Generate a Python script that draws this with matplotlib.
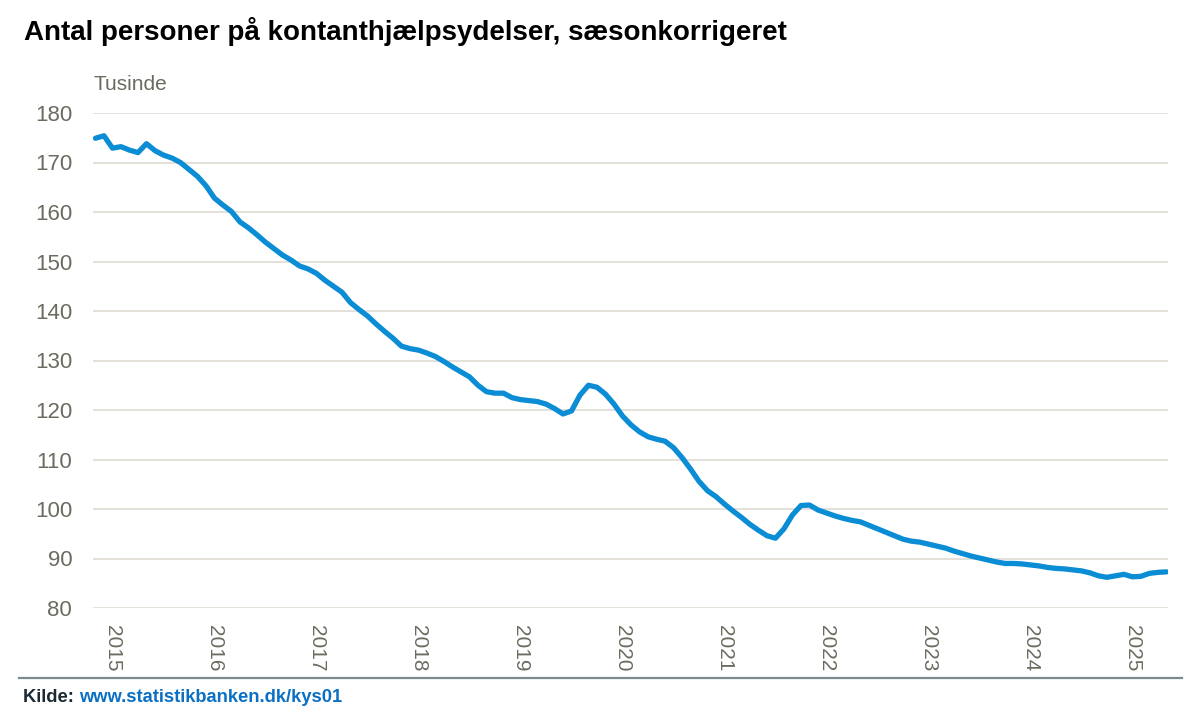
import matplotlib.pyplot as plt
from matplotlib.font_manager import fontManager

# Monthly values (thousands), Jan 2015 - Jul 2025
values = [
    174.9, 175.4, 172.9, 173.2, 172.5, 172.0, 173.8, 172.4, 171.5, 170.9, 170.0, 168.6,
    167.2, 165.3, 162.8, 161.4, 160.1, 158.0, 156.8, 155.4, 153.9, 152.6, 151.3, 150.3,
    149.1, 148.5, 147.6, 146.2, 145.0, 143.8, 141.7, 140.3, 139.0, 137.4, 135.9, 134.5,
    132.9, 132.4, 132.1, 131.5, 130.8, 129.8, 128.7, 127.7, 126.7, 125.0, 123.7, 123.4,
    123.4, 122.5, 122.1, 121.9, 121.7, 121.2, 120.3, 119.2, 119.8, 123.0, 125.0, 124.6,
    123.2, 121.2, 118.8, 117.0, 115.6, 114.6, 114.1, 113.7, 112.4, 110.4, 108.1, 105.6,
    103.7, 102.5, 101.0, 99.6, 98.3, 96.9, 95.7, 94.6, 94.1, 96.0, 98.8, 100.7,
    100.8, 99.8, 99.2, 98.6, 98.1, 97.7, 97.4, 96.7, 96.0, 95.3, 94.6, 93.9,
    93.5, 93.3, 92.9, 92.5, 92.1, 91.5, 91.0, 90.5, 90.1, 89.7, 89.3, 89.0,
    89.0, 88.9, 88.7, 88.5, 88.2, 88.0, 87.9, 87.7, 87.5, 87.1, 86.5, 86.2,
    86.5, 86.8, 86.3, 86.4, 87.0, 87.2, 87.3,
]
years = [str(y) for y in range(2015, 2026)]
yticks = list(range(80, 181, 10))

names = {f.name for f in fontManager.ttflist}
narrow = 'Liberation Sans Narrow' if 'Liberation Sans Narrow' in names else 'Liberation Sans'
plt.rcParams['font.family'] = ['Liberation Sans', 'DejaVu Sans']

grey = '#6b6b60'

fig = plt.figure(figsize=(12.03, 7.17), dpi=100)
ax = fig.add_axes([93 / 1203, 1 - 608 / 717, 1075 / 1203, 495 / 717])

x = list(range(len(values)))
ax.plot(x, values, color='#0a8dd4', lw=3.8, solid_joinstyle='round',
        solid_capstyle='round', zorder=3)

ax.set_ylim(80, 180)
ax.set_xlim(-0.29, 126.18)
ax.set_yticks(yticks)
ax.set_yticklabels([str(v) for v in yticks], family=narrow, fontsize=16, color=grey)
ax.set_xticks([2 + 12 * k for k in range(len(years))])
ax.set_xticklabels(years, rotation=-90, family=narrow, fontsize=15, color=grey,
                   ha='center', va='top')
ax.tick_params(axis='y', length=0, pad=15)
ax.tick_params(axis='x', length=0, pad=12)
ax.grid(axis='y', color='#dedbd3', lw=1.2)
ax.set_axisbelow(True)
for s in ax.spines.values():
    s.set_visible(False)

fig.text(93 / 1203, 1 - 85 / 717, 'Tusinde', family=narrow, fontsize=15,
         color=grey, va='center', ha='left')
fig.text(24 / 1203, 1 - 32 / 717,
         'Antal personer på kontanthjælpsydelser, sæsonkorrigeret',
         fontsize=20, fontweight='bold', color='black', va='center', ha='left')

# bottom rule
fig.add_artist(plt.Line2D([19 / 1203, 1182 / 1203], [1 - 678 / 717] * 2,
                          color='#7a8a90', lw=1.6))

t = fig.text(23 / 1203, 1 - 698 / 717, 'Kilde: ', fontsize=13.2, fontweight='bold',
             color='#1b2a33', va='center', ha='left')
fig.canvas.draw()
bb = t.get_window_extent()
fig.text(bb.x1 / 1203, 1 - 698 / 717, 'www.statistikbanken.dk/kys01', fontsize=13.2,
         fontweight='bold', color='#0b70c4', va='center', ha='left')

fig.savefig('out.png', dpi=100)
